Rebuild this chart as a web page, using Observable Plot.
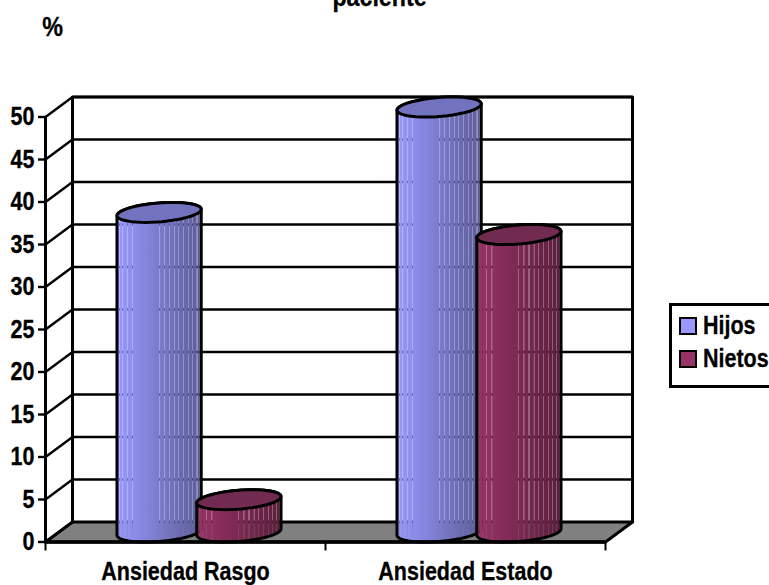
<!DOCTYPE html>
<html>
<head>
<meta charset="utf-8">
<script src="https://cdn.jsdelivr.net/npm/d3@7"></script>
<script src="https://cdn.jsdelivr.net/npm/@observablehq/plot@0.6"></script>
<style>
  html, body { margin: 0; padding: 0; background: #fff; overflow: hidden; }
  #wrap { position: relative; width: 769px; height: 585px; overflow: hidden; font-family: "Liberation Sans", sans-serif; font-weight: bold; color: #000; }
  #legend { position: absolute; left: 669px; top: 303px; width: 120px; height: 79px; border: 3px solid #000; box-sizing: content-box; background: #fff; }
  #legend div { position: absolute; left: 31px; font-size: 25px; line-height: 28px; white-space: nowrap; }
  #legend span { display: inline-block; transform: scaleX(0.86); transform-origin: left center; -webkit-text-stroke: 0.3px #000; }
  #legend i { position: absolute; left: -24px; top: 6px; width: 14px; height: 14px; border: 2px solid #000; display: block; }
</style>
</head>
<body>
<div id="wrap"></div>
<script>
// Percentages per anxiety scale, split by family group
const categories = ["Ansiedad Rasgo", "Ansiedad Estado"];
const seriesNames = ["Hijos", "Nietos"];
const hijos = [37.6, 50];
const nietos = [3.8, 35];
const yTicks = [0, 5, 10, 15, 20, 25, 30, 35, 40, 45, 50];
const seriesFill = ["#9999ff", "#993366"];
const seriesShade = ["#5c5c99", "#5c1f3d"];
const seriesCap = ["#7272be", "#722b50"];
const lightStripes = [0.03, 0.07, 0.12, 0.18, 0.5, 0.56, 0.62, 0.68, 0.73, 0.79, 0.85, 0.9, 0.95, 0.98];

// Oblique depth of the box, in data units of the two scales
const depthX = 27 / 280;
const depthY = 20 / 8.5;
const radius = 0.1425;
const project = (x, y, z) => ({x: x + z * depthX, y: y + z * depthY});

// One cylinder outline: floor-plane circle carried up to a given value
const skew = Math.atan2(depthX / 2, radius);
function ellipsePoints(cx, value, from, to, n = 48) {
  return d3.range(n + 1).map((i) => {
    const t = from + (to - from) * i / n;
    return project(cx + radius * Math.cos(t), value, 0.5 + 0.5 * Math.sin(t));
  });
}
function bodyPoints(cx, value) {
  const base = ellipsePoints(cx, 0, Math.PI + skew, 2 * Math.PI + skew);
  const top = ellipsePoints(cx, value, skew, Math.PI + skew);
  return [...base, ...top];
}

// Horizontal shading of a cylinder side; the thin bands let the wall show through
function gradientDefs() {
  const svgNS = "http://www.w3.org/2000/svg";
  const defs = document.createElementNS(svgNS, "defs");
  seriesFill.forEach((color, s) => {
    const g = document.createElementNS(svgNS, "linearGradient");
    g.setAttribute("id", "side" + s);
    const ramp = d3.interpolateRgb(color, seriesShade[s]);
    const add = (o, c, a = 1) => {
      const st = document.createElementNS(svgNS, "stop");
      st.setAttribute("offset", o);
      st.setAttribute("stop-color", c);
      st.setAttribute("stop-opacity", a);
      g.appendChild(st);
    };
    add(0, ramp(0));
    lightStripes.forEach((f) => {
      const base = ramp(f);
      add(f - 0.007, base);
      add(f - 0.006, base, 0.72);
      add(f + 0.006, base, 0.72);
      add(f + 0.007, base);
    });
    add(1, ramp(1));
    defs.appendChild(g);
  });
  return defs;
}

const frontRect = [[0, 0], [0, 50]].map(([x, y]) => ({x, y}));
const floor = [project(0, 0, 0), project(0, 0, 1), project(2, 0, 1), project(2, 0, 0)];
const wallEdges = [project(0, 0, 1), project(0, 50, 1), project(2, 50, 1), project(2, 0, 1)];

const cylinders = categories.flatMap((name, c) => [hijos[c], nietos[c]].map((value, s) => ({
  series: s,
  value,
  cx: c + 0.5 + (s === 0 ? -radius : radius)
})));

const black = {stroke: "#000", strokeLinejoin: "round"};
const labelFont = {fontSize: 25, fontWeight: "bold", fontFamily: "Liberation Sans", fill: "#000"};

const chart = Plot.plot({
  width: 769,
  height: 585,
  marginLeft: 45,
  marginRight: 164,
  marginTop: 116.5,
  marginBottom: 43.5,
  style: {background: "transparent", overflow: "hidden"},
  x: {type: "linear", domain: [0, 2], axis: null},
  y: {type: "linear", domain: [0, 50], axis: null},
  marks: [
    gradientDefs,
    // Floor
    Plot.line(floor, {x: "x", y: "y", curve: "linear-closed", fill: "#808080", ...black, strokeWidth: 3}),
    // Grid on the back wall
    Plot.link(yTicks.filter((t) => t > 0), {
      x1: () => depthX, x2: () => 2 + depthX,
      y1: (t) => t + depthY, y2: (t) => t + depthY,
      ...black, strokeWidth: 2.4
    }),
    // Grid on the left wall
    Plot.link(yTicks, {
      x1: () => 0, x2: () => depthX,
      y1: (t) => t, y2: (t) => t + depthY,
      ...black, strokeWidth: 2.4
    }),
    Plot.line(wallEdges, {x: "x", y: "y", ...black, strokeWidth: 3}),
    // Cylinders
    ...cylinders.flatMap((d) => [
      Plot.line(bodyPoints(d.cx, d.value), {
        x: "x", y: "y", curve: "linear-closed",
        fill: `url(#side${d.series})`, ...black, strokeWidth: 3
      }),
      Plot.line(ellipsePoints(d.cx, d.value, 0, 2 * Math.PI), {
        x: "x", y: "y", curve: "linear-closed",
        fill: seriesCap[d.series], ...black, strokeWidth: 3
      })
    ]),
    // Front edges and axes
    Plot.line(frontRect, {x: "x", y: "y", ...black, strokeWidth: 3}),
    Plot.ruleY([0], {x1: 0, x2: 2, stroke: "#000", strokeWidth: 3.5}),
    Plot.link([0, 1, 2], {x1: (d) => d, x2: (d) => d, y1: () => 0, y2: () => -1, ...black, strokeWidth: 2}),
    Plot.axisY({
      ticks: yTicks, tickSize: 7, tickPadding: 4, strokeWidth: 2.4, label: null,
      fontSize: 25, fontWeight: "bold", fontFamily: "Liberation Sans"
    }),
    // Category labels
    Plot.text(categories, {
      x: (d, i) => i + 0.5, y: () => 0, text: (d) => d, dy: 30, ...labelFont
    }),
    // Unit label and the last line of the heading
    Plot.text(["%"], {
      x: () => 0, y: () => 50, text: (d) => d, dx: 7, dy: -89.5, ...labelFont, fontSize: 27
    }),
    Plot.text(["paciente"], {
      x: () => 1, y: () => 50, text: (d) => d, dx: 54, dy: -120, ...labelFont, fontSize: 27
    })
  ]
});

const wrap = document.getElementById("wrap");
wrap.appendChild(chart);

// The labels use a narrow cut of the sans face: squeeze each run horizontally
chart.querySelectorAll("text").forEach((t) => {
  const len = t.getComputedTextLength();
  if (len > 0) {
    t.setAttribute("textLength", (len * 0.86).toFixed(1));
    t.setAttribute("lengthAdjust", "spacingAndGlyphs");
    t.setAttribute("stroke", "#000");
    t.setAttribute("stroke-width", "0.3");
  }
});

// Legend box runs past the right-hand edge of the page
const legend = document.createElement("div");
legend.id = "legend";
seriesNames.forEach((name, s) => {
  const row = document.createElement("div");
  row.style.top = (s === 0 ? 5 : 38) + "px";
  const sw = document.createElement("i");
  sw.style.background = seriesFill[s];
  const label = document.createElement("span");
  label.textContent = name;
  row.appendChild(sw);
  row.appendChild(label);
  legend.appendChild(row);
});
wrap.appendChild(legend);
</script>
</body>
</html>
